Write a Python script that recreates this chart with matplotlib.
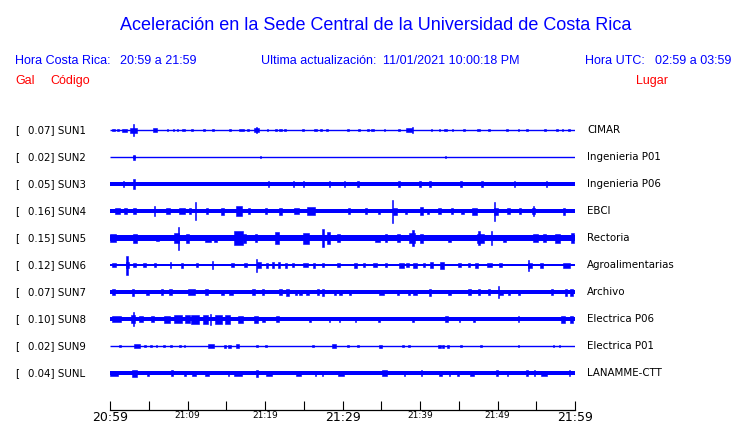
import matplotlib
matplotlib.use('Agg')
import matplotlib.pyplot as plt

W, H = 740, 423
BLUE = '#0000ff'
RED = '#ff0000'

# Station info
CODES = ['SUN1', 'SUN2', 'SUN3', 'SUN4', 'SUN5', 'SUN6', 'SUN7', 'SUN8', 'SUN9', 'SUNL']
PEAKS = [0.07, 0.02, 0.05, 0.16, 0.15, 0.12, 0.07, 0.10, 0.02, 0.04]
PLACES = ['CIMAR', 'Ingenieria P01', 'Ingenieria P06', 'EBCI', 'Rectoria',
          'Agroalimentarias', 'Archivo', 'Electrica P06', 'Electrica P01', 'LANAMME-CTT']

# background noise half-width of each trace (0 = flat line)
BASE = [0, 0, 2.0, 2.0, 2.7, 1.3, 1.8, 2.0, 0, 2.0]

# events: (minute after 20:59, half amplitude, duration in minutes)
SUN1_EVENTS = [(0.4, 1.3, 0.4), (1.0, 1.2, 0.3), (1.9, 1.5, 0.6), (3.0, 6.0, 0.15), (3.0, 2.5, 0.9),
               (5.8, 1.6, 0.5), (7.4, 1.2, 0.2), (8.2, 1.2, 0.2), (8.7, 1.2, 0.2), (9.5, 1.3, 0.3),
               (10.6, 1.2, 0.2), (12.1, 1.2, 0.2), (13.3, 1.2, 0.2), (15.5, 1.2, 0.2), (17.0, 1.3, 0.6),
               (17.8, 1.3, 0.3), (18.9, 3.0, 0.15), (18.9, 1.8, 0.6), (20.3, 1.2, 0.2), (21.4, 1.2, 0.3),
               (22.0, 1.3, 0.3), (22.6, 1.2, 0.3), (24.9, 1.2, 0.2), (26.5, 1.2, 0.3), (27.2, 1.2, 0.3),
               (28.0, 1.3, 0.3), (30.7, 1.3, 0.2), (32.1, 1.2, 0.2), (33.3, 1.2, 0.2), (33.9, 1.3, 0.4),
               (35.4, 1.2, 0.2), (37.3, 1.2, 0.2), (38.6, 1.6, 0.7), (39.0, 3.0, 0.15), (41.5, 1.2, 0.2),
               (42.5, 1.2, 0.2), (43.3, 1.3, 0.3), (44.2, 1.2, 0.2), (45.7, 1.2, 0.2), (47.6, 1.4, 0.4),
               (48.9, 1.2, 0.2), (51.2, 1.2, 0.3), (52.7, 1.2, 0.2), (53.8, 1.2, 0.2), (56.1, 1.3, 0.2),
               (57.7, 1.2, 0.2), (58.4, 1.2, 0.2), (59.2, 1.3, 0.3)]
SUN2_EVENTS = [(3.1, 2.5, 0.15), (3.1, 1.2, 0.3), (19.4, 1.0, 0.15), (43.3, 1.0, 0.15)]
SUN3_EVENTS = [(3.1, 5.0, 0.15), (1.7, 2.7, 0.15), (20.5, 2.6, 0.15), (23.7, 2.6, 0.15), (25.0, 2.6, 0.15),
               (28.3, 2.6, 0.15), (30.3, 2.6, 0.15), (32.0, 2.6, 0.15), (37.3, 2.6, 0.15), (40.0, 2.6, 0.15),
               (41.3, 2.6, 0.15), (45.3, 2.6, 0.15), (48.0, 2.6, 0.15), (52.2, 2.6, 0.15), (56.3, 2.6, 0.15)]
SUN4_EVENTS = [(1.0, 3.0, 0.6), (2.0, 2.8, 0.3), (3.2, 3.0, 0.4), (5.7, 5.0, 0.15), (7.5, 3.0, 0.5),
               (9.3, 3.0, 0.8), (10.3, 3.0, 0.3), (11.0, 9.0, 0.15), (12.5, 2.6, 0.3), (14.5, 3.5, 0.4),
               (16.6, 5.0, 0.8), (17.9, 3.0, 0.3), (20.1, 3.3, 0.2), (22.0, 3.5, 0.5), (24.1, 2.7, 0.6),
               (25.9, 4.0, 1.0), (30.8, 3.0, 0.3), (33.0, 3.0, 0.3), (34.7, 2.5, 0.3), (36.4, 11.5, 0.15),
               (36.8, 3.5, 0.5), (38.2, 2.5, 0.3), (40.2, 4.0, 0.5), (41.0, 2.5, 0.3), (42.5, 2.7, 0.3),
               (44.1, 3.0, 0.3), (45.5, 2.5, 0.3), (47.0, 3.5, 0.6), (49.6, 9.5, 0.15), (49.8, 3.5, 0.5),
               (51.4, 3.0, 0.3), (52.9, 3.0, 0.3), (54.6, 5.0, 0.15), (54.7, 3.0, 0.4), (58.6, 3.5, 0.3)]
SUN5_EVENTS = [(0.4, 4.0, 0.8), (3.2, 4.5, 0.5), (6.1, 3.2, 0.4), (8.8, 11.5, 0.15), (8.6, 5.0, 0.6),
               (10.0, 4.5, 0.3), (12.6, 3.5, 0.8), (13.6, 3.5, 0.4), (16.6, 7.0, 1.2), (17.4, 4.5, 0.4),
               (18.8, 4.0, 0.3), (21.6, 6.0, 0.5), (25.3, 5.5, 0.8), (27.5, 9.0, 0.2), (28.2, 6.0, 0.4),
               (29.5, 4.0, 0.4), (34.5, 3.5, 0.6), (35.6, 4.0, 0.3), (37.2, 4.0, 0.4), (39.1, 8.0, 0.2),
               (39.0, 5.0, 0.8), (40.2, 4.5, 0.3), (43.8, 3.5, 0.4), (47.6, 7.0, 0.3), (47.8, 4.5, 0.8),
               (49.2, 7.0, 0.2), (50.9, 3.5, 0.3), (54.9, 4.0, 0.6), (56.1, 4.0, 0.4), (57.7, 4.5, 0.6),
               (59.7, 5.0, 0.4)]
SUN6_EVENTS = [(0.5, 2.0, 0.6), (2.2, 9.5, 0.15), (2.2, 3.0, 0.4), (3.2, 2.0, 0.4), (4.5, 1.8, 0.4),
               (5.8, 1.8, 0.3), (7.8, 3.0, 0.2), (9.3, 2.5, 0.3), (11.2, 1.8, 0.3), (13.2, 4.0, 0.15),
               (15.8, 1.8, 0.4), (17.5, 2.0, 0.3), (18.9, 6.5, 0.15), (19.2, 3.0, 0.5), (20.3, 2.5, 0.3),
               (21.0, 3.0, 0.3), (21.8, 2.8, 0.3), (22.7, 2.5, 0.3), (23.6, 2.0, 0.3), (25.2, 2.0, 0.6),
               (26.3, 2.5, 0.3), (27.5, 2.0, 0.3), (29.5, 1.8, 0.3), (31.7, 2.5, 0.4), (32.8, 2.0, 0.3),
               (34.2, 2.0, 0.5), (35.6, 2.0, 0.3), (37.6, 2.5, 0.6), (38.4, 2.0, 0.3), (39.3, 2.5, 0.5),
               (40.5, 2.0, 0.3), (41.5, 3.0, 0.3), (42.8, 3.5, 0.5), (45.1, 2.0, 0.5), (46.3, 2.0, 0.3),
               (47.3, 2.5, 0.3), (49.0, 2.0, 0.6), (50.4, 2.0, 0.3), (54.0, 5.5, 0.15), (54.2, 2.5, 0.6),
               (55.7, 2.5, 0.4), (58.9, 2.5, 0.8)]
SUN7_EVENTS = [(0.4, 3.0, 0.4), (3.0, 3.5, 0.3), (4.8, 2.5, 0.4), (6.7, 2.7, 0.3), (7.8, 3.0, 0.3),
               (10.5, 3.0, 1.0), (12.5, 3.0, 0.4), (14.5, 2.5, 0.3), (15.6, 2.5, 0.5), (18.5, 3.0, 0.3),
               (19.7, 3.0, 0.3), (22.0, 3.0, 0.3), (22.9, 3.5, 0.3), (24.0, 2.5, 0.3), (24.6, 2.5, 0.3),
               (25.5, 2.5, 0.3), (26.8, 3.0, 0.3), (27.5, 3.5, 0.3), (29.0, 2.5, 0.3), (29.8, 2.5, 0.4),
               (31.0, 2.5, 0.3), (35.0, 2.5, 0.6), (37.2, 2.5, 0.3), (38.6, 2.5, 0.3), (39.3, 2.5, 0.5),
               (41.3, 3.5, 0.3), (43.8, 2.5, 0.3), (46.4, 3.0, 0.3), (47.6, 3.0, 0.3), (48.9, 3.0, 0.3),
               (50.1, 6.3, 0.15), (50.4, 2.5, 0.5), (51.5, 2.5, 0.3), (52.8, 2.5, 0.3), (57.0, 3.0, 0.3),
               (58.8, 3.5, 0.3), (59.6, 3.5, 0.4)]
SUN8_EVENTS = [(0.8, 3.0, 1.2), (3.0, 7.3, 0.15), (3.0, 4.0, 0.5), (4.0, 3.0, 0.6), (5.5, 3.0, 0.4),
               (7.4, 3.5, 0.8), (8.8, 4.0, 1.0), (10.0, 4.0, 0.6), (11.0, 4.5, 1.0), (12.3, 4.5, 0.6),
               (13.0, 5.5, 0.15), (14.0, 4.5, 0.8), (15.2, 4.5, 0.6), (16.8, 3.5, 0.6), (18.8, 3.5, 0.5),
               (19.8, 2.5, 0.3), (21.6, 3.0, 0.3), (25.8, 2.5, 0.2), (28.3, 2.5, 0.2), (29.6, 2.5, 0.2),
               (31.7, 2.5, 0.2), (34.7, 2.5, 0.2), (39.1, 2.5, 0.3), (43.4, 3.0, 0.3), (45.1, 2.5, 0.2),
               (47.0, 2.5, 0.2), (52.7, 3.0, 0.2), (58.5, 3.5, 0.5), (59.5, 3.5, 0.4)]
SUN9_EVENTS = [(1.3, 1.3, 0.15), (3.5, 2.0, 0.8), (4.5, 1.3, 0.2), (5.3, 1.3, 0.2), (6.0, 1.3, 0.2),
               (7.0, 1.3, 0.2), (7.9, 1.3, 0.2), (9.0, 1.3, 0.2), (9.6, 1.3, 0.2), (13.0, 1.7, 0.8),
               (14.8, 1.5, 0.3), (15.4, 1.5, 0.3), (16.5, 2.0, 0.4), (19.0, 1.3, 0.2), (20.1, 1.3, 0.2),
               (26.2, 1.3, 0.2), (28.9, 1.7, 0.5), (30.7, 1.3, 0.2), (32.0, 1.3, 0.2), (34.9, 1.5, 0.3),
               (37.8, 1.3, 0.2), (38.6, 1.3, 0.2), (42.5, 1.5, 0.3), (43.0, 1.5, 0.3), (43.6, 1.5, 0.3),
               (45.3, 1.3, 0.2), (47.9, 1.3, 0.2), (52.7, 1.3, 0.2), (57.2, 1.3, 0.2), (58.0, 1.3, 0.2)]
SUNL_EVENTS = [(0.5, 2.5, 1.0), (3.2, 3.5, 0.6), (4.9, 2.5, 0.3), (8.0, 3.0, 0.3), (9.7, 2.5, 0.2),
               (10.8, 2.5, 0.5), (12.5, 2.5, 0.6), (15.3, 2.5, 0.2), (16.5, 2.5, 1.0), (19.0, 3.5, 0.2),
               (20.5, 2.5, 0.8), (24.3, 2.5, 0.6), (26.5, 2.5, 0.2), (27.4, 2.5, 0.2), (29.8, 2.5, 0.8),
               (35.4, 3.0, 0.6), (38.0, 2.5, 0.2), (40.2, 3.0, 0.2), (42.6, 2.5, 0.4), (43.8, 2.5, 0.2),
               (44.9, 2.5, 0.2), (46.7, 2.5, 0.6), (49.9, 3.0, 0.2), (51.3, 2.5, 0.2), (53.8, 3.0, 0.2),
               (54.8, 3.0, 0.2), (56.0, 2.5, 0.8), (59.3, 3.0, 0.2)]

EVENTS = [SUN1_EVENTS, SUN2_EVENTS, SUN3_EVENTS, SUN4_EVENTS, SUN5_EVENTS,
          SUN6_EVENTS, SUN7_EVENTS, SUN8_EVENTS, SUN9_EVENTS, SUNL_EVENTS]

TICK_MINUTES = list(range(0, 61, 5))
TICK_LABELS = ['20:59', '', '21:09', '', '21:19', '', '21:29', '', '21:39', '', '21:49', '', '21:59']
BIG_LABELS = ['20:59', '21:29', '21:59']

fig = plt.figure(figsize=(W / 100, H / 100), dpi=100)


def fx(x):
    return x / W


def fy(y):
    return 1 - y / H


# header
hdr = dict(family='Liberation Sans', fontsize=9, va='baseline', ha='left')
fig.text(0.508, fy(30.5), 'Aceleración en la Sede Central de la Universidad de Costa Rica',
         family='Liberation Sans', fontsize=13, color=BLUE, ha='center', va='baseline')
fig.text(fx(15), fy(64), 'Hora Costa Rica:', color=BLUE, **hdr)
fig.text(fx(120), fy(64), '20:59 a 21:59', color=BLUE, **hdr)
fig.text(fx(261), fy(64), 'Ultima actualización:', color=BLUE, **hdr)
fig.text(fx(383), fy(64), '11/01/2021 10:00:18 PM', color=BLUE, **hdr)
fig.text(fx(585), fy(64), 'Hora UTC:', color=BLUE, **hdr)
fig.text(fx(655), fy(64), '02:59 a 03:59', color=BLUE, **hdr)
fig.text(fx(15), fy(84), 'Gal', color=RED, **hdr)
fig.text(fx(50), fy(84), 'Código', color=RED, **hdr)
fig.text(fx(636), fy(84), 'Lugar', color=RED, **hdr)

# trace area, y in pixels from the top
left, right, top, bottom = 110, 575, 115, 410
ax = fig.add_axes([fx(left), fy(bottom), (right - left) / W, (bottom - top) / H])
ax.set_xlim(0, 60)
ax.set_ylim(bottom, top)

for i, code in enumerate(CODES):
    c = 130 + 27 * i
    b = BASE[i]
    if b > 0:
        ax.fill_between([0, 60], c - b, c + b, color=BLUE, linewidth=0)
    else:
        ax.hlines(c, 0, 60, color=BLUE, linewidth=1)
    for m, a, d in EVENTS[i]:
        ax.bar(m, 2 * a, bottom=c - a, width=d, color=BLUE, edgecolor=BLUE, linewidth=0.4)

    ty = fy(c)
    fig.text(fx(15), ty, '[', fontsize=7.4, va='center', ha='left')
    fig.text(fx(28), ty, f'{PEAKS[i]:.2f}] {code}', fontsize=7.4, va='center', ha='left')
    fig.text(fx(587), ty, PLACES[i], fontsize=7.4, va='center', ha='left')

for s in ['top', 'left', 'right']:
    ax.spines[s].set_visible(False)
ax.spines['bottom'].set_linewidth(0.9)
ax.set_yticks([])
ax.set_xticks(TICK_MINUTES)
ax.set_xticklabels(TICK_LABELS)
ax.tick_params(axis='x', direction='in', length=6.5, width=0.8, pad=1)
for lab in ax.get_xticklabels():
    lab.set_fontsize(9 if lab.get_text() in BIG_LABELS else 6.5)

fig.savefig('out.png', dpi=100)
